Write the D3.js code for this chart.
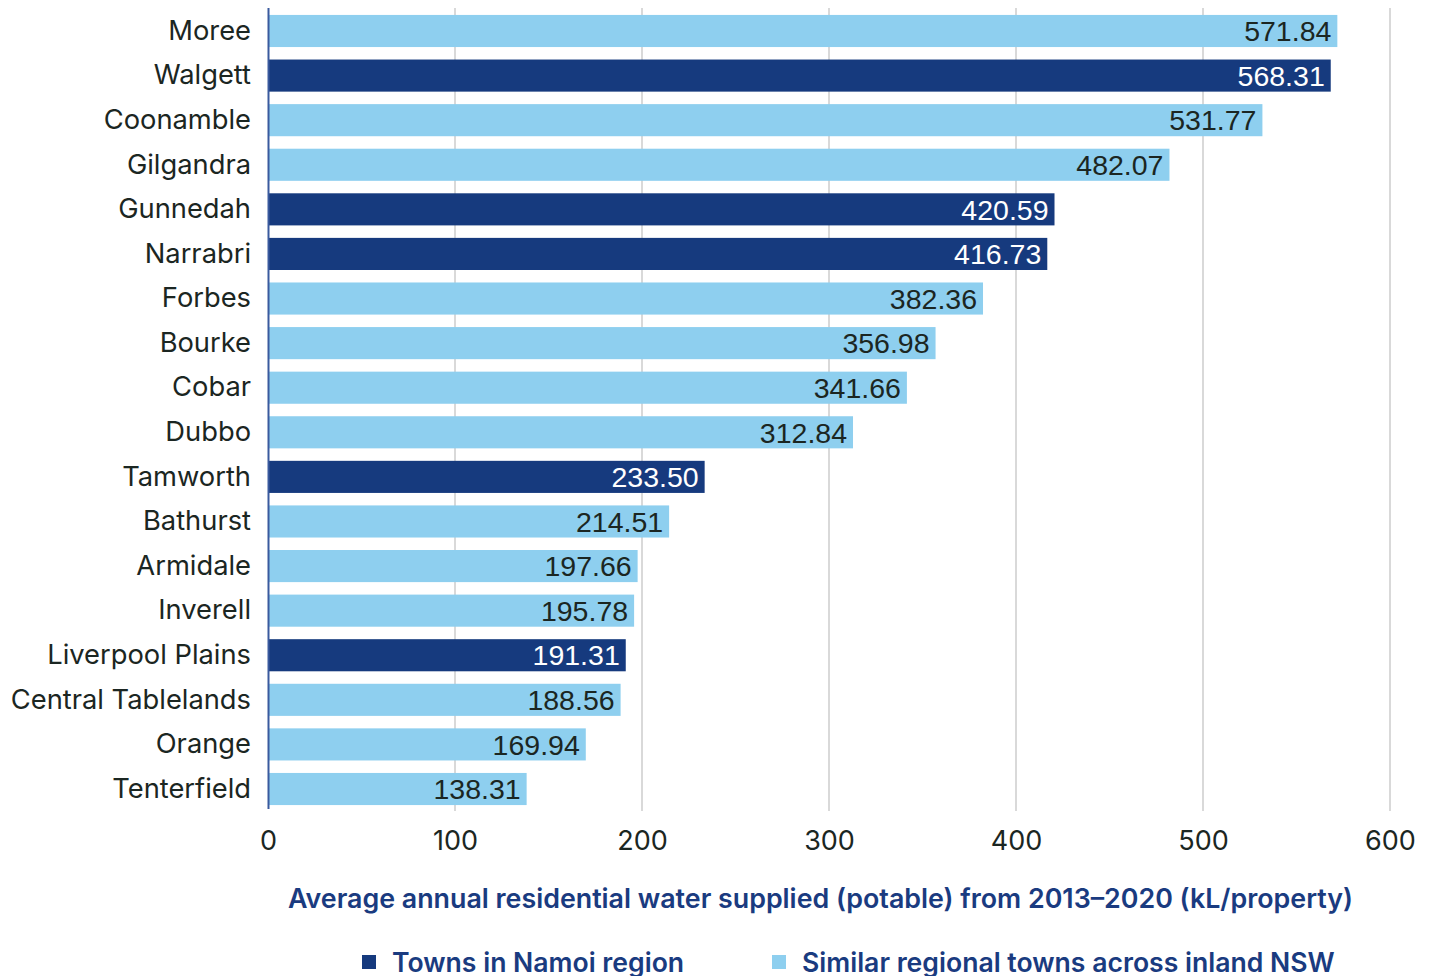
<!DOCTYPE html>
<html>
<head>
<meta charset="utf-8">
<script src="https://cdn.jsdelivr.net/npm/d3@7"></script>
<style>
  html, body { margin: 0; padding: 0; background: #ffffff; }
  svg { display: block; }
</style>
</head>
<body>
<svg id="chart" width="1433" height="976"></svg>
<script>
// Towns, ordered from highest to lowest supply
const towns = ["Moree", "Walgett", "Coonamble", "Gilgandra", "Gunnedah", "Narrabri", "Forbes",
  "Bourke", "Cobar", "Dubbo", "Tamworth", "Bathurst", "Armidale", "Inverell",
  "Liverpool Plains", "Central Tablelands", "Orange", "Tenterfield"];
// Average annual residential water supplied (kL/property)
const supply = [571.84, 568.31, 531.77, 482.07, 420.59, 416.73, 382.36,
  356.98, 341.66, 312.84, 233.50, 214.51, 197.66, 195.78,
  191.31, 188.56, 169.94, 138.31];
// Which group each town belongs to
const group = ["other", "namoi", "other", "other", "namoi", "namoi", "other",
  "other", "other", "other", "namoi", "other", "other", "other",
  "namoi", "other", "other", "other"];
const xTicks = [0, 100, 200, 300, 400, 500, 600];
const legendKeys = ["namoi", "other"];
const legendLabels = ["Towns in Namoi region", "Similar regional towns across inland NSW"];
const axisTitle = "Average annual residential water supplied (potable) from 2013\u20132020 (kL/property)";

const colors = { namoi: "#163a7e", other: "#8ecfef" };
const labelColors = { namoi: "#ffffff", other: "#1b2622" };

const data = towns.map((t, i) => ({ town: t, value: supply[i], group: group[i] }));

const svg = d3.select("#chart");
const margin = { left: 268, right: 1390, top: 8.7, bottom: 811.3 };

const x = d3.scaleLinear().domain([0, 600]).range([margin.left, margin.right]);
const y = d3.scaleBand().domain(towns).range([margin.top, margin.bottom])
  .paddingInner(0.28).paddingOuter(0.14);

const uiFont = "'Inter', 'Noto Sans', sans-serif";
const numFont = "'Liberation Sans', Arial, sans-serif";

// Vertical gridlines
svg.append("g")
  .selectAll("line")
  .data(xTicks.filter(d => d > 0))
  .join("line")
  .attr("x1", d => x(d)).attr("x2", d => x(d))
  .attr("y1", 8).attr("y2", 811)
  .attr("stroke", "#cccccc")
  .attr("stroke-width", 1.5);

// Bars
svg.append("g")
  .selectAll("rect")
  .data(data)
  .join("rect")
  .attr("x", x(0))
  .attr("y", d => y(d.town))
  .attr("width", d => x(d.value) - x(0))
  .attr("height", y.bandwidth())
  .attr("fill", d => colors[d.group]);

// Value labels inside bar ends
svg.append("g")
  .selectAll("text")
  .data(data)
  .join("text")
  .attr("x", d => x(d.value) - 6)
  .attr("y", d => y(d.town) + y.bandwidth() / 2)
  .attr("dy", "0.36em")
  .attr("text-anchor", "end")
  .attr("font-family", numFont)
  .attr("font-size", 28.5)
  .attr("fill", d => labelColors[d.group])
  .text(d => d.value.toFixed(2));

// Category axis
const yAxis = svg.append("g")
  .attr("transform", `translate(${x(0)},0)`)
  .call(d3.axisLeft(y).tickSize(0).tickPadding(17));
yAxis.select(".domain")
  .attr("d", `M0.5,8V809`)
  .attr("stroke", "#3a5a9e")
  .attr("stroke-width", 2);
yAxis.selectAll("text")
  .attr("font-family", uiFont)
  .attr("font-size", 27.3)
  .attr("fill", "#1b2622");

// Value axis
const xAxis = svg.append("g")
  .attr("transform", `translate(0,${margin.bottom})`)
  .call(d3.axisBottom(x).tickValues(xTicks).tickSize(0).tickPadding(20));
xAxis.select(".domain").remove();
xAxis.selectAll("text")
  .attr("font-family", uiFont)
  .attr("font-size", 27)
  .attr("fill", "#1b2622");

// Axis title
svg.append("text")
  .attr("x", 820.5)
  .attr("y", 898)
  .attr("dy", "0.36em")
  .attr("text-anchor", "middle")
  .attr("font-family", uiFont)
  .attr("font-weight", 600)
  .attr("font-size", 26.8)
  .attr("fill", "#1a3b80")
  .text(axisTitle);

// Legend
const legendX = [362, 772];
const legend = svg.append("g")
  .selectAll("g")
  .data(legendKeys)
  .join("g")
  .attr("transform", (d, i) => `translate(${legendX[i]},962)`);
legend.append("rect")
  .attr("x", 0).attr("y", -7)
  .attr("width", 14).attr("height", 14)
  .attr("fill", d => colors[d]);
legend.append("text")
  .attr("x", 30)
  .attr("dy", "0.36em")
  .attr("font-family", uiFont)
  .attr("font-weight", 600)
  .attr("font-size", 26.6)
  .attr("fill", "#1a3b80")
  .text((d, i) => legendLabels[i]);
</script>
</body>
</html>
